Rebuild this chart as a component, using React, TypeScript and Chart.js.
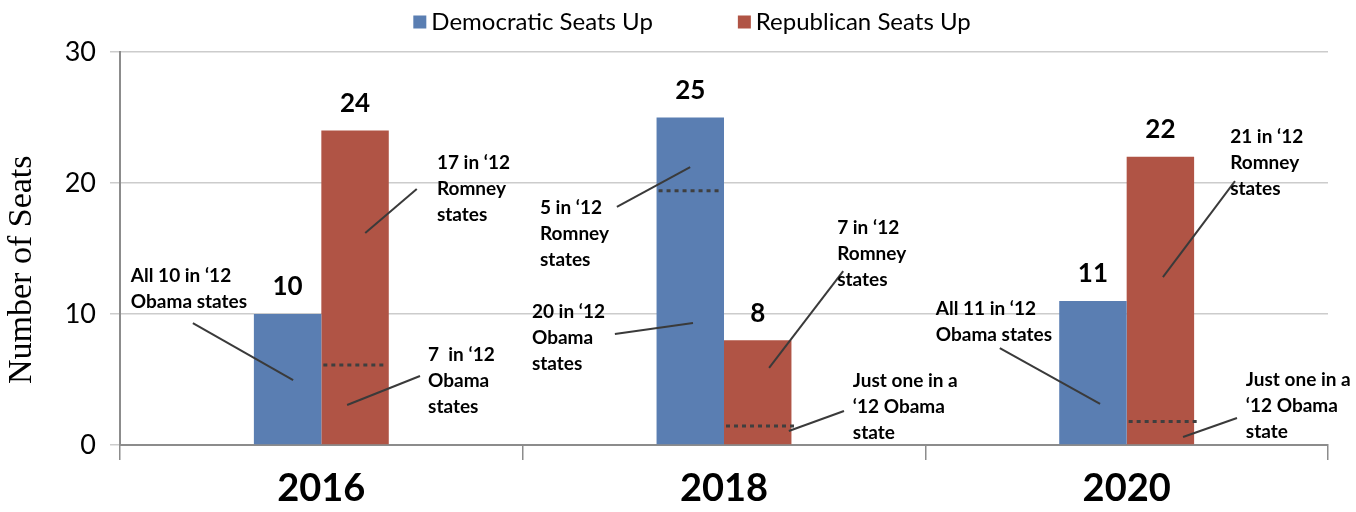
import React, { useEffect, useRef } from "react";
import { Chart, registerables } from "chart.js";

Chart.register(...registerables);

const categories = ["2016", "2018", "2020"];
const seriesNames = ["Democratic Seats Up", "Republican Seats Up"];
const democraticSeats = [10, 25, 11];
const republicanSeats = [24, 8, 22];
const yTickValues = [0, 10, 20, 30];

// Dotted split markers inside bars: category index, series index, value
const splitCategory = [0, 1, 1, 2];
const splitSeries = [1, 0, 1, 1];
const splitValue = [6.1, 19.4, 1.45, 1.8];

// Callout notes: text lines, anchor (category value, seat value), connector from/to
const noteLines = [
  ["All 10 in \u201812", "Obama states"],
  ["17 in \u201812", "Romney", "states"],
  ["7  in \u201812", "Obama", "states"],
  ["5 in \u201812", "Romney", "states"],
  ["20 in \u201812", "Obama", "states"],
  ["7 in \u201812", "Romney", "states"],
  ["Just one in a", "\u201812 Obama", "state"],
  ["21 in \u201812", "Romney", "states"],
  ["All 11 in \u201812", "Obama states"],
  ["Just one in a", "\u201812 Obama", "state"],
];
const noteAnchorX = [-0.473, 0.287, 0.265, 0.543, 0.523, 1.281, 1.32, 2.257, 1.526, 2.296];
const noteAnchorY = [12.9, 21.53, 6.87, 18.09, 10.15, 16.56, 4.89, 23.51, 10.38, 4.96];
const noteFromX = [-0.319, 0.237, 0.245, 0.734, 0.729, 1.296, 1.298, 2.269, 1.685, 2.274];
const noteFromY = [9.31, 19.54, 5.27, 18.17, 8.47, 13.28, 2.6, 20.15, 7.4, 2.06];
const noteToX = [-0.07, 0.109, 0.064, 0.916, 0.923, 1.112, 1.161, 2.09, 1.934, 2.14];
const noteToY = [4.96, 16.18, 3.05, 21.22, 9.31, 5.88, 1.07, 12.82, 3.13, 0.61];

const BLUE = "rgb(90,126,178)";
const RED = "rgb(176,84,69)";
const NOTE_FONT = "bold 19px Lato, 'Open Sans', sans-serif";

const overlayPlugin = {
  id: "overlay",
  afterDatasetsDraw(chart: any) {
    const ctx = chart.ctx;
    const xs = chart.scales.x;
    const ys = chart.scales.y;

    // dotted split lines
    ctx.save();
    ctx.strokeStyle = "#3f3f3f";
    ctx.lineWidth = 3;
    ctx.setLineDash([4, 4]);
    for (let i = 0; i < splitValue.length; i++) {
      const bar = chart.getDatasetMeta(splitSeries[i]).data[splitCategory[i]];
      const half = bar.width / 2;
      const y = ys.getPixelForValue(splitValue[i]);
      ctx.beginPath();
      ctx.moveTo(bar.x - half + 2, y);
      ctx.lineTo(bar.x + half + (splitSeries[i] === 1 && splitCategory[i] > 0 ? 6 : -4), y);
      ctx.stroke();
    }
    ctx.restore();

    // value labels
    ctx.save();
    ctx.fillStyle = "#000";
    ctx.font = "bold 26px Lato, 'Open Sans', sans-serif";
    ctx.textAlign = "center";
    ctx.textBaseline = "middle";
    chart.data.datasets.forEach((ds: any, di: number) => {
      const meta = chart.getDatasetMeta(di);
      meta.data.forEach((bar: any, i: number) => {
        ctx.fillText(String(ds.data[i]), bar.x, bar.y - 27);
      });
    });
    ctx.restore();

    // notes + connectors
    ctx.save();
    ctx.strokeStyle = "#3a3a3a";
    ctx.lineWidth = 2;
    for (let i = 0; i < noteLines.length; i++) {
      ctx.beginPath();
      ctx.moveTo(xs.getPixelForValue(noteFromX[i]), ys.getPixelForValue(noteFromY[i]));
      ctx.lineTo(xs.getPixelForValue(noteToX[i]), ys.getPixelForValue(noteToY[i]));
      ctx.stroke();
    }
    ctx.fillStyle = "#000";
    ctx.font = NOTE_FONT;
    ctx.textAlign = "left";
    ctx.textBaseline = "middle";
    for (let i = 0; i < noteLines.length; i++) {
      const x = xs.getPixelForValue(noteAnchorX[i]);
      const y0 = ys.getPixelForValue(noteAnchorY[i]);
      noteLines[i].forEach((line, k) => {
        ctx.fillText(line, x, y0 + k * 25.8);
      });
    }
    ctx.restore();
  },
  afterDraw(chart: any) {
    // legend
    const ctx = chart.ctx;
    ctx.save();
    ctx.font = "24px Lato, 'Open Sans', sans-serif";
    ctx.textBaseline = "middle";
    ctx.textAlign = "left";
    const colors = [BLUE, RED];
    const box = 13;
    const gap = 5;
    const itemGap = 85;
    const widths = seriesNames.map((n) => ctx.measureText(n).width);
    const total = widths.reduce((a, w) => a + box + gap + w, 0) + itemGap;
    let x = 692 - total / 2;
    const cy = 22;
    seriesNames.forEach((n, i) => {
      ctx.fillStyle = colors[i];
      ctx.fillRect(x, cy - box / 2, box, box);
      ctx.fillStyle = "#000";
      ctx.fillText(n, x + box + gap, cy);
      x += box + gap + widths[i] + itemGap;
    });
    ctx.restore();
  },
};

export default function App() {
  const ref = useRef<HTMLCanvasElement | null>(null);
  useEffect(() => {
    document.body.style.margin = "0";
    const canvas = ref.current;
    if (!canvas) return;
    const chart = new Chart(canvas, {
      type: "bar",
      data: {
        labels: categories,
        datasets: [
          {
            label: seriesNames[0],
            data: democraticSeats,
            backgroundColor: BLUE,
            borderWidth: 0,
            categoryPercentage: 0.335,
            barPercentage: 1,
          },
          {
            label: seriesNames[1],
            data: republicanSeats,
            backgroundColor: RED,
            borderWidth: 0,
            categoryPercentage: 0.335,
            barPercentage: 1,
          },
        ],
      },
      options: {
        responsive: false,
        animation: false,
        layout: { padding: { top: 52, right: 28, left: 0, bottom: 0 } },
        plugins: {
          legend: { display: false },
          tooltip: { enabled: false },
        },
        scales: {
          x: {
            grid: {
              offset: true,
              drawOnChartArea: false,
              tickLength: 15,
              color: "#8c8c8c",
              lineWidth: 1.5,
            },
            border: { color: "#8c8c8c", width: 2 },
            ticks: {
              color: "#000",
              padding: 6,
              font: { family: "Lato, 'Open Sans', sans-serif", size: 38, weight: "bold" },
            },
            afterFit: (s: any) => {
              s.height = 67;
            },
          },
          y: {
            min: 0,
            max: 30,
            afterBuildTicks: (s: any) => {
              s.ticks = yTickValues.map((v) => ({ value: v }));
            },
            grid: { color: "#cccccc", lineWidth: 1.5, tickLength: 10 },
            border: { color: "#8c8c8c", width: 2 },
            ticks: {
              color: "#000",
              padding: 14,
              font: { family: "Lato, 'Open Sans', sans-serif", size: 27 },
            },
            title: {
              display: true,
              text: "Number of Seats     ",
              color: "#000",
              font: { family: "'Liberation Serif', 'DejaVu Serif', serif", size: 34 },
              padding: { top: 2, bottom: 0 },
            },
            afterFit: (s: any) => {
              s.width = 120;
            },
          },
        },
      },
      plugins: [overlayPlugin],
    });
    return () => chart.destroy();
  }, []);
  return (
    <div style={{ width: 1356, height: 512 }}>
      <canvas ref={ref} width={1356} height={512} style={{ display: "block" }} />
    </div>
  );
}
